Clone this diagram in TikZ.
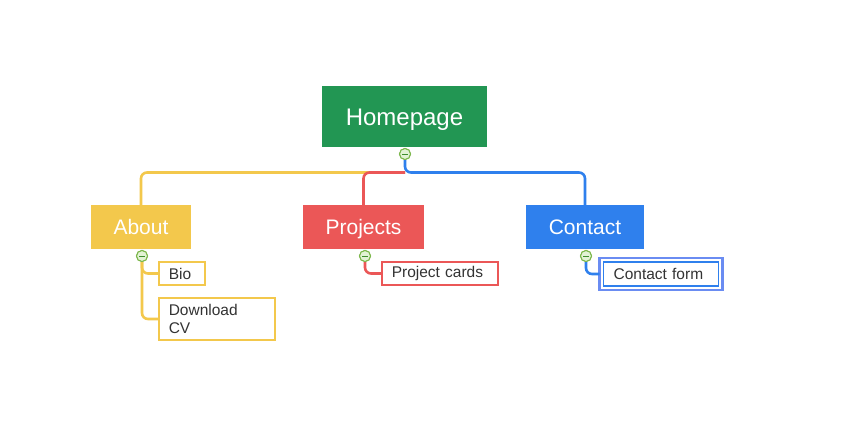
\documentclass[tikz,border=0pt]{standalone}
\usepackage{fontspec}
\setmainfont{Liberation Sans}
\definecolor{cgreen}{HTML}{229653}
\definecolor{cyellow}{HTML}{F3C84C}
\definecolor{cred}{HTML}{EB5757}
\definecolor{cblue}{HTML}{2F80ED}
\definecolor{cblue2}{HTML}{6A8CF2}
\definecolor{ctext}{HTML}{333333}
\definecolor{mfill}{HTML}{E2F2D4}
\definecolor{mdraw}{HTML}{7AB648}
\definecolor{mline}{HTML}{3E8E2E}
\begin{document}
\begin{tikzpicture}[x=1pt,y=-1pt,
  topic/.style={fill=#1, text=white, inner sep=0pt, text height=14pt, text depth=0pt, font=\fontsize{21}{24}\selectfont},
  child/.style={draw=#1, line width=1.6pt, fill=white, text=ctext, anchor=west, inner xsep=10pt, inner ysep=0pt, align=left, font=\fontsize{15.5}{18}\selectfont},
  conn/.style={draw=#1, line width=2.6pt, rounded corners=6pt},
  minus/.style={circle, draw=mdraw, fill=mfill, line width=1pt, minimum size=11pt, inner sep=0pt,
    path picture={\draw[mline, line width=0.9pt] ([xshift=-3pt]path picture bounding box.center) -- ([xshift=3pt]path picture bounding box.center);}}]
\useasboundingbox (0,0) rectangle (854,437);
\fill[white] (0,0) rectangle (854,437);

% main nodes
\node[topic=cgreen, minimum width=165pt, minimum height=61pt, text height=17pt, font=\fontsize{24}{28}\selectfont] (home) at (404.5,116.5) {Homepage};
\node[topic=cyellow, minimum width=100pt, minimum height=44pt] (about) at (141,227) {About};
\node[topic=cred, minimum width=121pt, minimum height=44pt] (projects) at (363.5,227) {Projects};
\node[topic=cblue, minimum width=118pt, minimum height=44pt] (contact) at (585,227) {Contact};

% minus buttons
\node[minus] (mh) at (405,154) {};
\node[minus] (ma) at (142,256) {};
\node[minus] (mp) at (365,256) {};
\node[minus] (mc) at (586,256) {};

\coordinate (j) at (405,172.5);

% children
\node[child=cyellow, text width=26pt, minimum height=23pt] (bio) at (158,273.5) {Bio};
\node[child=cyellow, text width=96pt, minimum height=42pt] (cv) at (158,319) {Download\\CV};
\node[child=cred, text width=96pt, minimum height=23pt] (cards) at (381,273.5) {Project cards};
\node[child=cblue, line width=1.2pt, text width=95pt, minimum height=24pt] (form) at (603,274) {Contact form};
\draw[cblue2, line width=2.6pt] ([xshift=-3.5pt,yshift=3.5pt]form.north west) rectangle ([xshift=3.5pt,yshift=-3.5pt]form.south east);

% connectors
\draw[conn=cyellow] (j) -| (about.north);
\draw[conn=cred] (j) -| (projects.north);
\draw[conn=cblue] (mh.south) -- (j) -| (contact.north);
\draw[conn=cyellow] (ma.south) |- (bio.west);
\draw[conn=cyellow] (ma.south) |- (cv.west);
\draw[conn=cred] (mp.south) |- (cards.west);
\draw[conn=cblue] (mc.south) |- ([xshift=-3.5pt]form.west);

% redraw buttons on top
\node[minus] at (mh) {};
\node[minus] at (ma) {};
\node[minus] at (mp) {};
\node[minus] at (mc) {};
\end{tikzpicture}
\end{document}
